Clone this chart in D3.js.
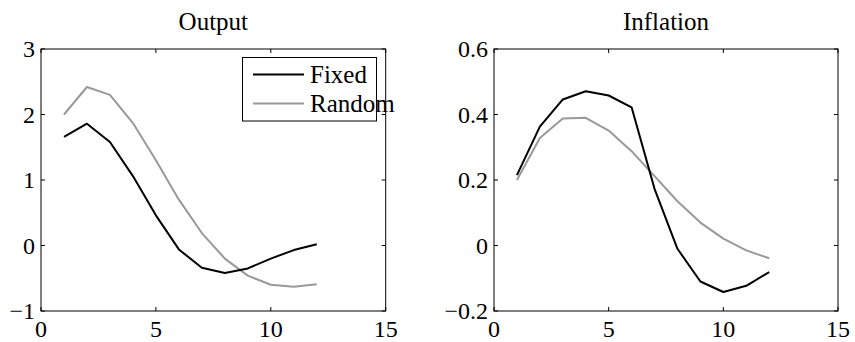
<!DOCTYPE html>
<html>
<head>
<meta charset="utf-8">
<script src="https://cdn.jsdelivr.net/npm/d3@7"></script>
<style>
  body { margin: 0; background: #fff; }
  svg text { font-family: "Liberation Serif", "Times New Roman", serif; fill: #000; }
</style>
</head>
<body>
<svg id="chart" width="855" height="342"></svg>
<script>
// horizon 1..12
const periods = [1, 2, 3, 4, 5, 6, 7, 8, 9, 10, 11, 12];

const outputFixed  = [1.66, 1.86, 1.58, 1.06, 0.46, -0.06, -0.34, -0.42, -0.35, -0.20, -0.07, 0.02];
const outputRandom = [2.00, 2.42, 2.30, 1.87, 1.30, 0.70, 0.19, -0.20, -0.46, -0.60, -0.63, -0.59];

const inflFixed  = [0.215, 0.363, 0.446, 0.471, 0.458, 0.422, 0.173, -0.010, -0.110, -0.142, -0.123, -0.081];
const inflRandom = [0.200, 0.328, 0.388, 0.390, 0.351, 0.288, 0.212, 0.135, 0.070, 0.021, -0.015, -0.039];

const xTicks = [0, 5, 10, 15];
const outputTicks = [-1, 0, 1, 2, 3];
const inflTicks = [-0.2, 0, 0.2, 0.4, 0.6];

const seriesNames = ["Fixed", "Random"];
const seriesColors = ["#000000", "#999999"];

const svg = d3.select("#chart");
const tickFont = 24;
const textFont = 25;
const tickLen = 4;
const plotTop = 49, plotBottom = 311;

const minus = s => s.replace("-", "\u2212");

function panel(left, right, title, yDomain, yTicks, yFmt, fixed, random, legend) {
  const x = d3.scaleLinear().domain([0, 15]).range([left, right]);
  const y = d3.scaleLinear().domain(yDomain).range([plotBottom, plotTop]);
  const g = svg.append("g");

  // ticks on all four sides, pointing in
  g.selectAll(".xt").data(xTicks).enter().append("path")
    .attr("d", d => `M${x(d)},${plotBottom}v${-tickLen}M${x(d)},${plotTop}v${tickLen}`)
    .attr("stroke", "#000").attr("stroke-width", 1);
  g.selectAll(".yt").data(yTicks).enter().append("path")
    .attr("d", d => `M${left},${y(d)}h${tickLen}M${right},${y(d)}h${-tickLen}`)
    .attr("stroke", "#000").attr("stroke-width", 1);

  g.append("rect")
    .attr("x", left).attr("y", plotTop)
    .attr("width", right - left).attr("height", plotBottom - plotTop)
    .attr("fill", "none").attr("stroke", "#000").attr("stroke-width", 1);

  g.selectAll(".xl").data(xTicks).enter().append("text")
    .attr("x", d => x(d)).attr("y", 337)
    .attr("text-anchor", "middle").attr("font-size", tickFont)
    .text(d => d);
  g.selectAll(".yl").data(yTicks).enter().append("text")
    .attr("x", left - 6).attr("y", d => y(d) + 8)
    .attr("text-anchor", "end").attr("font-size", tickFont)
    .text(d => minus(yFmt(d)));

  g.append("text")
    .attr("x", (left + right) / 2).attr("y", 30)
    .attr("text-anchor", "middle").attr("font-size", textFont)
    .text(title);

  const line = d3.line().x((d, i) => x(periods[i])).y(d => y(d));
  [random, fixed].forEach((s, k) => {
    g.append("path").datum(s)
      .attr("d", line)
      .attr("fill", "none")
      .attr("stroke", k === 0 ? seriesColors[1] : seriesColors[0])
      .attr("stroke-width", 2)
      .attr("stroke-linejoin", "round");
  });

  if (legend) {
    const lg = svg.append("g");
    lg.append("rect")
      .attr("x", 242.5).attr("y", 57.5).attr("width", 134).attr("height", 63.5)
      .attr("fill", "#fff").attr("stroke", "#000").attr("stroke-width", 1);
    seriesNames.forEach((n, i) => {
      const yy = 74.5 + i * 29;
      lg.append("line")
        .attr("x1", 253).attr("x2", 304).attr("y1", yy).attr("y2", yy)
        .attr("stroke", seriesColors[i]).attr("stroke-width", 2);
      lg.append("text")
        .attr("x", 310).attr("y", yy + 8)
        .attr("font-size", textFont)
        .text(n);
    });
  }
}

panel(41, 385.7, "Output", [-1, 3], outputTicks, d3.format("d"), outputFixed, outputRandom, true);
panel(494, 838, "Inflation", [-0.2, 0.6], inflTicks, d => d === 0 ? "0" : d3.format(".1f")(d), inflFixed, inflRandom, false);
</script>
</body>
</html>
